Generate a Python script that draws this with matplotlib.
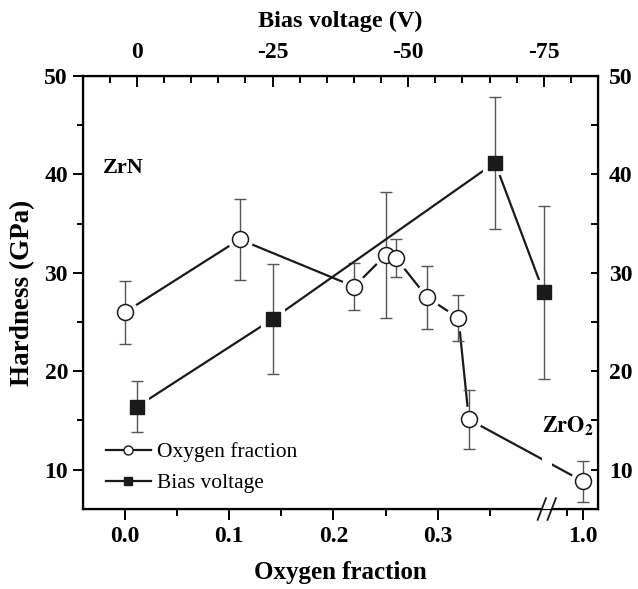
import matplotlib
matplotlib.use("Agg")
import matplotlib.pyplot as plt
import numpy as np
from matplotlib.lines import Line2D
from matplotlib.patches import Rectangle
from matplotlib.ticker import FixedLocator, MultipleLocator, FuncFormatter

# hardness vs oxygen fraction (open circles, bottom axis)
oxygen_x = [0.0, 0.11, 0.22, 0.25, 0.26, 0.29, 0.32, 0.33, 1.0]
oxygen_h = [26.0, 33.4, 28.6, 31.8, 31.5, 27.5, 25.4, 15.1, 8.8]
oxygen_err = [3.2, 4.1, 2.35, 6.4, 1.9, 3.2, 2.3, 3.0, 2.1]

# hardness vs bias voltage (filled squares, top axis)
bias_v = [0, -25, -66, -75]
bias_h = [16.4, 25.3, 41.2, 28.0]
bias_err = [2.6, 5.6, 6.7, 8.8]

x_major = [0.0, 0.1, 0.2, 0.3, 1.0]
x_minor = [0.05, 0.15, 0.25, 0.35, 0.95]
x_labels = ["0.0", "0.1", "0.2", "0.3", "1.0"]

plt.rcParams["font.family"] = ["Liberation Serif", "DejaVu Serif"]
plt.rcParams["mathtext.fontset"] = "stix"
plt.rcParams["axes.unicode_minus"] = False

TICK_FS = 17


def brk_forward(x):
    # broken axis: 0..0.40 linear, gap 0.40..0.90 squeezed, 0.90+ compressed
    x = np.asarray(x, dtype=float)
    return np.where(x <= 0.40, x,
                    np.where(x <= 0.90, 0.40 + (x - 0.40) * 0.019,
                             0.4095 + (x - 0.90) * 0.302))


def brk_inverse(p):
    p = np.asarray(p, dtype=float)
    return np.where(p <= 0.40, p,
                    np.where(p <= 0.4095, 0.40 + (p - 0.40) / 0.019,
                             0.90 + (p - 0.4095) / 0.302))


fig = plt.figure(figsize=(6.38, 5.89), dpi=100)
ax = fig.add_axes([0.1306, 0.1358, 0.8067, 0.7352])
ax.set_xscale("function", functions=(brk_forward, brk_inverse))
ax.set_xlim(-0.04, 1.047)
ax.set_ylim(6, 50)

lw = 1.6
# oxygen fraction series
ax.plot(oxygen_x, oxygen_h, color="#1a1a1a", lw=lw, zorder=2)
ax.plot(oxygen_x, oxygen_h, ls="none", marker="o", ms=15.5, mfc="white",
        mec="white", mew=3, zorder=2.2)
ax.errorbar(oxygen_x, oxygen_h, yerr=oxygen_err, fmt="none", ecolor="#555555",
            elinewidth=1.0, capsize=4, capthick=1.0, zorder=2.4)
ax.plot(oxygen_x, oxygen_h, ls="none", marker="o", ms=11.5, mfc="white",
        mec="#1a1a1a", mew=1.1, zorder=2.6)

# gap in the line at the axis break
ax.add_patch(Rectangle((0.40, 0.0), 0.50, 0.3, transform=ax.get_xaxis_transform(),
                       facecolor="white", edgecolor="none", zorder=2.7))
ax.add_patch(Rectangle((0.40, -0.03), 0.50, 0.05, transform=ax.get_xaxis_transform(),
                       facecolor="white", edgecolor="none", zorder=3.5, clip_on=False))
for xb in (0.40, 0.90):
    ax.plot([brk_inverse(brk_forward(xb) - 0.004), brk_inverse(brk_forward(xb) + 0.004)],
            [-0.025, 0.025], transform=ax.get_xaxis_transform(), color="#1a1a1a",
            lw=1.3, clip_on=False, zorder=4)

ax.xaxis.set_major_locator(FixedLocator(x_major))
ax.xaxis.set_minor_locator(FixedLocator(x_minor))
ax.set_xticklabels(x_labels)
ax.yaxis.set_major_locator(MultipleLocator(10))
ax.yaxis.set_minor_locator(MultipleLocator(5))
ax.tick_params(axis="both", which="both", direction="out", width=1.4, labelsize=TICK_FS)
ax.tick_params(axis="x", which="major", length=8, pad=4)
ax.tick_params(axis="x", which="minor", length=5)
ax.tick_params(axis="y", which="major", length=7, pad=4)
ax.tick_params(axis="y", which="minor", length=4)
for lab in ax.get_xticklabels() + ax.get_yticklabels():
    lab.set_fontweight("bold")
ax.set_xlabel("Oxygen fraction", fontsize=18, fontweight="bold", labelpad=10)
ax.set_ylabel("Hardness (GPa)", fontsize=19.5, fontweight="bold", labelpad=7)
for sp in ax.spines.values():
    sp.set_linewidth(1.6)

# bias voltage series on the top axis
ax_top = ax.twiny()
ax_top.set_xlim(9.9, -85)
ax_top.plot(bias_v, bias_h, color="#1a1a1a", lw=lw, zorder=2)
ax_top.plot(bias_v, bias_h, ls="none", marker="s", ms=14, mfc="white",
            mec="white", mew=3, zorder=2.2)
ax_top.errorbar(bias_v, bias_h, yerr=bias_err, fmt="none", ecolor="#555555",
                elinewidth=1.0, capsize=4, capthick=1.0, zorder=2.4)
ax_top.plot(bias_v, bias_h, ls="none", marker="s", ms=10.5, mfc="#1a1a1a",
            mec="#1a1a1a", zorder=2.6)
ax_top.xaxis.set_major_locator(MultipleLocator(25))
ax_top.xaxis.set_minor_locator(MultipleLocator(5))
ax_top.xaxis.set_major_formatter(FuncFormatter(lambda v, p: f"{v:.0f}"))
ax_top.tick_params(axis="x", which="both", direction="in", width=1.4,
                   labelsize=TICK_FS, pad=9)
ax_top.tick_params(axis="x", which="major", length=8)
ax_top.tick_params(axis="x", which="minor", length=5)
for lab in ax_top.get_xticklabels():
    lab.set_fontweight("bold")
ax_top.set_xlabel("Bias voltage (V)", fontsize=17.5, fontweight="bold", labelpad=11)

# right axis
ax_right = ax.twinx()
ax_right.set_ylim(ax.get_ylim())
ax_right.yaxis.set_major_locator(MultipleLocator(10))
ax_right.yaxis.set_minor_locator(MultipleLocator(5))
ax_right.tick_params(axis="y", which="both", direction="in", width=1.4, length=5,
                     labelsize=TICK_FS, pad=8)
ax_right.xaxis.set_visible(False)
for lab in ax_right.get_yticklabels():
    lab.set_fontweight("bold")

ax.text(0.038, 0.7875, "ZrN", transform=ax.transAxes, fontsize=16,
        fontweight="bold", va="center", ha="left")
ax.text(0.892, 0.19, r"$\mathbf{ZrO_2}$", transform=ax.transAxes, fontsize=16,
        va="center", ha="left", zorder=5)

handles = [
    Line2D([], [], color="#1a1a1a", lw=1.6, marker="o", ms=6.5, mfc="white",
           mec="#1a1a1a", mew=1.0),
    Line2D([], [], color="#1a1a1a", lw=1.6, marker="s", ms=6, mfc="#1a1a1a",
           mec="#1a1a1a"),
]
ax_right.legend(handles, ["Oxygen fraction", "Bias voltage"], loc="lower left",
                bbox_to_anchor=(0.006, -0.008), frameon=False, fontsize=15.5,
                handlelength=2.1, handletextpad=0.3, labelspacing=0.5)

fig.savefig("out.png", dpi=100)
